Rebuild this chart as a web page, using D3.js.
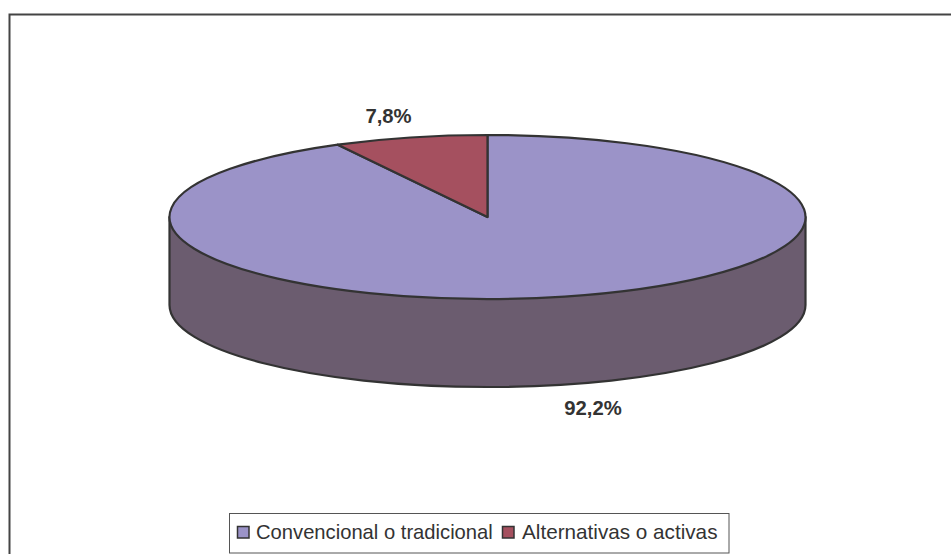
<!DOCTYPE html>
<html><head><meta charset="utf-8">
<script src="https://cdn.jsdelivr.net/npm/d3@7"></script>
<style>html,body{margin:0;padding:0;background:#fff}svg{display:block}</style></head>
<body><svg id="c" width="951" height="554"></svg>
<script>
const categories = ["Convencional o tradicional", "Alternativas o activas"];
const values = [92.2, 7.8];
const labels = ["92,2%", "7,8%"];
const colors = ["#9B93C8", "#A5505F"];
const sideColor = "#6B5C6F";
const ink = "#333333";
const cx = 487.5, cy = 217, rx = 318, ry = 82, depth = 88;
const svg = d3.select("#c");
const font = "'Liberation Sans', Arial, sans-serif";

svg.append("path").attr("d", "M9.5,554V14.5H951").attr("fill", "none").attr("stroke", "#444").attr("stroke-width", 2);

const arcs = d3.pie().sort(null).value(d => d)(values);

// extruded wall: front half of the ellipse
const wall = d3.path();
wall.moveTo(cx - rx, cy);
wall.lineTo(cx - rx, cy + depth);
wall.bezierCurveTo(cx - rx, cy + depth + ry * 0.5523, cx - rx * 0.5523, cy + depth + ry, cx, cy + depth + ry);
wall.bezierCurveTo(cx + rx * 0.5523, cy + depth + ry, cx + rx, cy + depth + ry * 0.5523, cx + rx, cy + depth);
wall.lineTo(cx + rx, cy);
wall.closePath();
svg.append("path").attr("d", wall.toString()).attr("fill", sideColor).attr("stroke", ink).attr("stroke-width", 2.2).attr("stroke-linejoin", "round");

// top slices: d3.arc in a unit-radius space, squashed into the ellipse
const R = 100;
const arcGen = d3.arc().innerRadius(0).outerRadius(R);
svg.append("g").attr("transform", `translate(${cx},${cy}) scale(${rx / R},${ry / R})`)
  .selectAll("path").data(arcs).join("path")
  .attr("d", arcGen)
  .attr("fill", (d, i) => colors[i])
  .attr("stroke", ink).attr("stroke-width", 2.2)
  .attr("vector-effect", "non-scaling-stroke")
  .attr("stroke-linejoin", "round");

// data labels
const labelPos = [[593, 415], [388.5, 122.5]];
svg.selectAll("text.l").data(labels).join("text").attr("class", "l")
  .attr("x", (d, i) => labelPos[i][0]).attr("y", (d, i) => labelPos[i][1])
  .attr("text-anchor", "middle").attr("font-family", font).attr("font-size", 20.3).attr("font-weight", "bold")
  .attr("fill", ink).text(d => d);

// legend
svg.append("rect").attr("x", 229.5).attr("y", 513.5).attr("width", 499.5).attr("height", 39.5)
  .attr("fill", "#fff").attr("stroke", "#555").attr("stroke-width", 1);
const lx = [237.5, 502.5], tx = [256, 522], ts = [20.2, 20.7];
categories.forEach((c, i) => {
  svg.append("rect").attr("x", lx[i]).attr("y", 526.5).attr("width", 11.5).attr("height", 11.5)
    .attr("fill", colors[i]).attr("stroke", ink).attr("stroke-width", 1.5);
  svg.append("text").attr("x", tx[i]).attr("y", 538.5).attr("font-family", font).attr("font-size", ts[i])
    .attr("fill", ink).text(c);
});
</script></body></html>
